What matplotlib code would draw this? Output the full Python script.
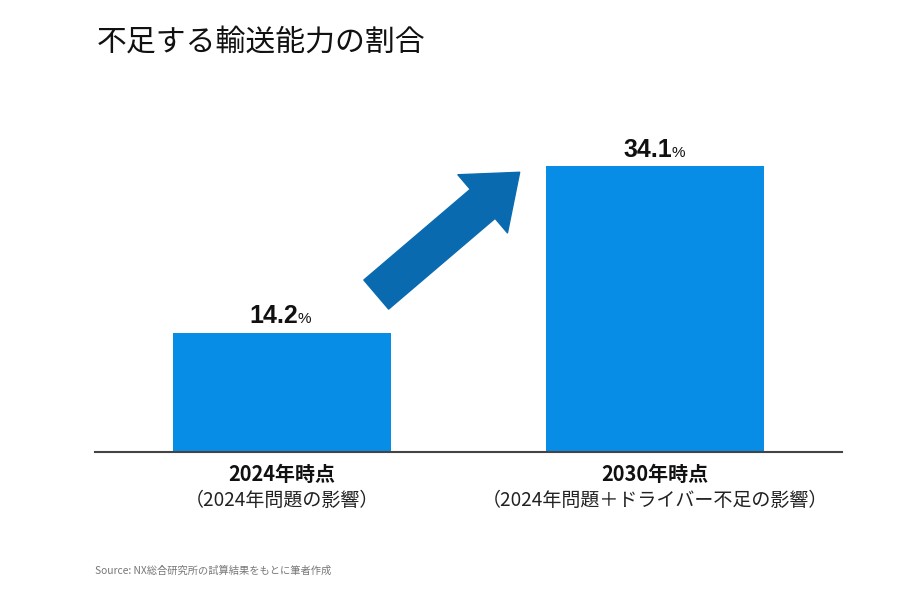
import matplotlib
matplotlib.use('Agg')
import matplotlib.pyplot as plt

plt.rcParams['font.family'] = ['Noto Sans CJK JP', 'DejaVu Sans']

# data
categories = ['2024年時点', '2030年時点']
subtitles = ['（2024年問題の影響）', '（2024年問題＋ドライバー不足の影響）']
values = [14.2, 34.1]
title = '不足する輸送能力の割合'
source = 'Source: NX総合研究所の試算結果をもとに筆者作成'

bar_color = '#088DE6'
arrow_color = '#0A6AB0'
num_font = ['Liberation Sans', 'DejaVu Sans']

fig = plt.figure(figsize=(9, 6), dpi=100)
ax = fig.add_axes([95 / 900, 1 - 452 / 600, 747 / 900, 335 / 600])

x = list(range(len(values)))
ax.bar(x, values, width=0.585, color=bar_color, zorder=2)
ax.set_xlim(-0.5, 1.5)
ax.set_ylim(0, 40)

for s in ['top', 'right', 'left']:
    ax.spines[s].set_visible(False)
ax.spines['bottom'].set_color('#444444')
ax.spines['bottom'].set_linewidth(1.5)
ax.set_xticks([])
ax.set_yticks([])

# value labels
for xi, v in zip(x, values):
    ax.annotate('%.1f' % v, xy=(xi, v), xytext=(12, 7), textcoords='offset points',
                ha='right', va='baseline', fontsize=18, fontweight='bold',
                family=num_font, color='#111111')
    ax.annotate('%', xy=(xi, v), xytext=(11.5, 7), textcoords='offset points',
                ha='left', va='baseline', fontsize=11,
                family=num_font, color='#111111')

# category labels below the axis
tr = ax.get_xaxis_transform()
for xi, c, s in zip(x, categories, subtitles):
    ax.text(xi, -0.068, c, transform=tr, ha='center', va='center',
            fontsize=14.4, fontweight='bold', color='#111111')
    ax.text(xi, -0.146, s, transform=tr, ha='center', va='center',
            fontsize=13.7, color='#222222')

# rising arrow between the bars
ax.annotate('', xy=(0.637, 33.4), xytext=(0.253, 18.8),
            arrowprops=dict(arrowstyle='simple,tail_width=0.55,head_width=1.1,head_length=0.7',
                            mutation_scale=50, color=arrow_color,
                            shrinkA=0, shrinkB=0))

fig.text(97 / 900, 1 - 42 / 600, title, ha='left', va='center',
         fontsize=21.5, color='#111111')
fig.text(95 / 900, 1 - 571 / 600, source, ha='left', va='center',
         fontsize=7.4, color='#777777')

fig.savefig('out.png', dpi=100)
